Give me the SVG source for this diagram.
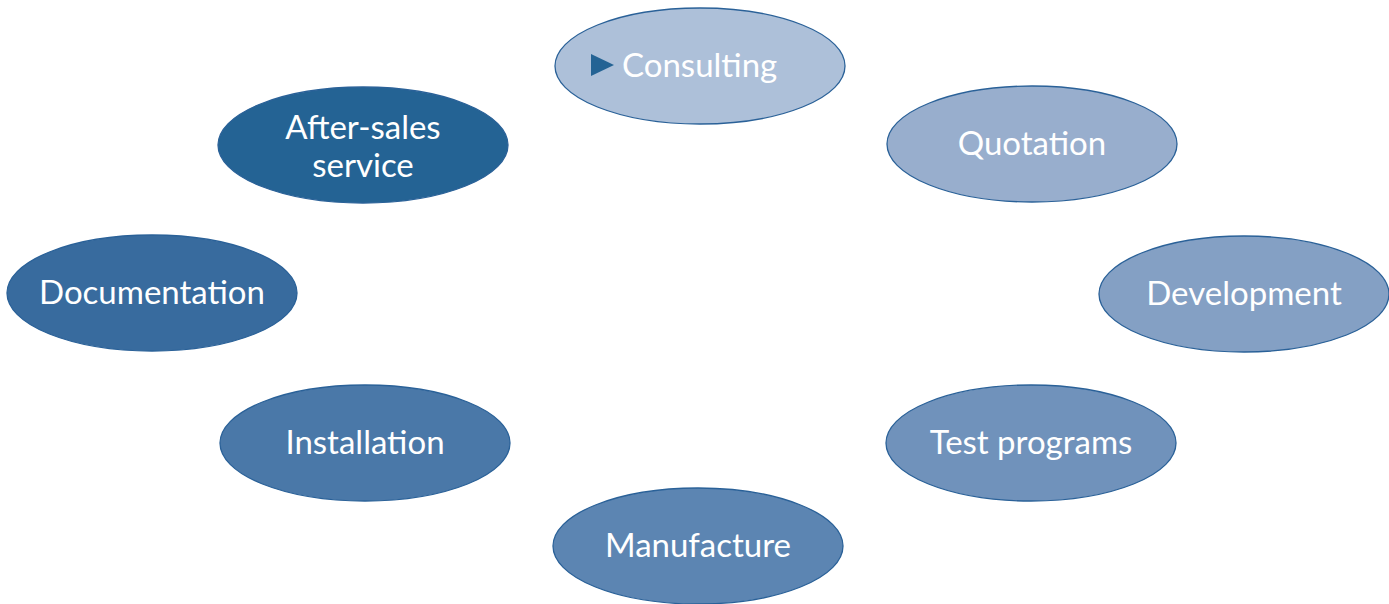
<svg xmlns="http://www.w3.org/2000/svg" width="1389" height="604" viewBox="0 0 1389 604">
<style>
.n ellipse{stroke:#2a6198;stroke-width:1.3}
.n text{font-family:Lato,"Open Sans","Liberation Sans",sans-serif;font-size:33px;fill:#ffffff;text-anchor:middle}
</style>
<rect width="1389" height="604" fill="#ffffff"/>
<g id="connectors"></g>
<g id="consulting" class="n"><ellipse cx="700" cy="66" rx="145" ry="58" fill="#adc0d9"/><path d="M591,54 L614,65 L591,76 Z" fill="#246394"/><text x="622" y="77" style="text-anchor:start">Consulting</text></g>
<g id="quotation" class="n"><ellipse cx="1032" cy="144" rx="145" ry="58" fill="#98aecd"/><text x="1032" y="155">Quotation</text></g>
<g id="development" class="n"><ellipse cx="1244" cy="294" rx="145" ry="58" fill="#84a0c4"/><text x="1244" y="305">Development</text></g>
<g id="test-programs" class="n"><ellipse cx="1031" cy="443" rx="145" ry="58" fill="#7092bb"/><text x="1031" y="454">Test programs</text></g>
<g id="manufacture" class="n"><ellipse cx="698" cy="546" rx="145" ry="58" fill="#5c85b2"/><text x="698" y="557">Manufacture</text></g>
<g id="installation" class="n"><ellipse cx="365" cy="443" rx="145" ry="58" fill="#4a78a8"/><text x="365" y="454">Installation</text></g>
<g id="documentation" class="n"><ellipse cx="152" cy="293" rx="145" ry="58" fill="#386b9e"/><text x="152" y="304">Documentation</text></g>
<g id="after-sales" class="n"><ellipse cx="363" cy="145" rx="145" ry="58" fill="#246394"/><text x="363" y="139">After-sales</text><text x="363" y="177">service</text></g>
</svg>
